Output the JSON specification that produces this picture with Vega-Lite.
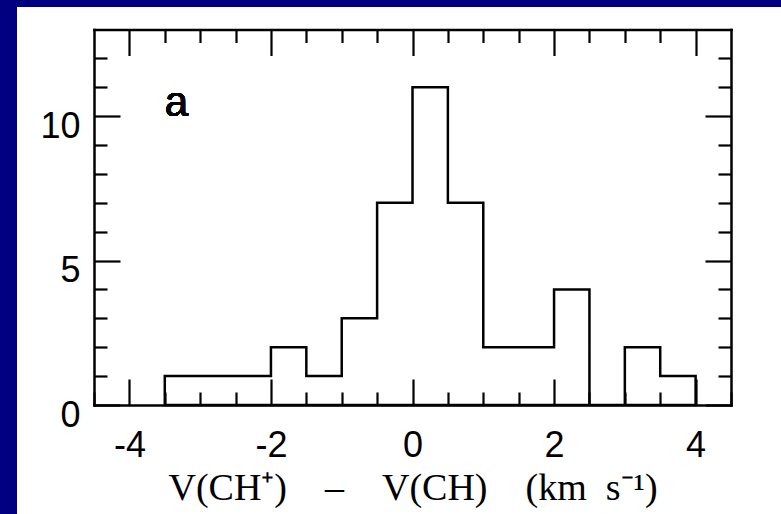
{
  "$schema": "https://vega.github.io/schema/vega-lite/v6.json",
  "width": 764,
  "height": 507,
  "autosize": {"type": "none"},
  "padding": {"left": 17, "top": 7, "right": 0, "bottom": 0},
  "background": "#000080",
  "config": {
    "view": {"fill": "white", "stroke": null},
    "axis": {
      "grid": false,
      "domainColor": "black",
      "domainWidth": 2.5,
      "domainCap": "square",
      "tickColor": "black",
      "tickWidth": 2.2,
      "labelColor": "black",
      "labelFont": "Liberation Sans",
      "labelFontSize": 36,
      "labelFontWeight": "normal",
      "labelOverlap": false,
      "labelBound": false,
      "labelFlush": false,
      "titleColor": "black"
    }
  },
  "data": {
    "values": [
      {"edge": -3.5, "count": 1},
      {"edge": -3.0, "count": 1},
      {"edge": -2.5, "count": 1},
      {"edge": -2.0, "count": 2},
      {"edge": -1.5, "count": 1},
      {"edge": -1.0, "count": 3},
      {"edge": -0.5, "count": 7},
      {"edge": 0.0, "count": 11},
      {"edge": 0.5, "count": 7},
      {"edge": 1.0, "count": 2},
      {"edge": 1.5, "count": 2},
      {"edge": 2.0, "count": 4},
      {"edge": 2.5, "count": 0},
      {"edge": 3.0, "count": 2},
      {"edge": 3.5, "count": 1},
      {"edge": 4.0, "count": 0}
    ]
  },
  "resolve": {"axis": {"x": "independent", "y": "independent"}},
  "layer": [
    {
      "mark": {"type": "area", "interpolate": "step-after", "fillOpacity": 0, "stroke": "black", "strokeWidth": 2.5, "strokeJoin": "miter"},
      "encoding": {
        "x": {
          "field": "edge", "type": "quantitative",
          "scale": {"domain": [-4.5, 4.5], "range": [77, 714], "nice": false, "zero": false},
          "axis": {
            "orient": "bottom", "offset": -109, "values": [-4, -2, 0, 2, 4],
            "ticks": false, "domain": true, "labelPadding": 23,
            "labelExpr": "datum.value < 0 ? '-' + abs(datum.value) : '' + datum.value",
            "title": "V(CH⁺)\u2003–\u2003V(CH)\u2003(km\u2002s⁻¹)",
            "titleFont": "Liberation Serif", "titleFontSize": 38, "titleFontWeight": "normal",
            "titlePadding": 6
          }
        },
        "y": {
          "field": "count", "type": "quantitative",
          "scale": {"domain": [0, 13], "range": [398, 22.5], "nice": false, "zero": false},
          "axis": {
            "orient": "left", "offset": -77, "values": [0, 5, 10],
            "ticks": false, "domain": true, "labelPadding": 14, "labelOffset": 10,
            "title": null
          }
        }
      }
    },
    {
      "mark": {"type": "point", "opacity": 0},
      "encoding": {
        "x": {"field": "edge", "type": "quantitative",
          "axis": {"orient": "bottom", "offset": -109, "values": [-4, -2, 0, 2, 4], "tickSize": -26, "labels": false, "domain": false, "title": null}},
        "y": {"field": "count", "type": "quantitative",
          "axis": {"orient": "left", "offset": -77, "values": [0, 5, 10], "tickSize": -26, "labels": false, "domain": false, "title": null}}
      }
    },
    {
      "mark": {"type": "point", "opacity": 0},
      "encoding": {
        "x": {"field": "edge", "type": "quantitative",
          "axis": {"orient": "bottom", "offset": -109, "values": [-4.5, -3.5, -3, -2.5, -1.5, -1, -0.5, 0.5, 1, 1.5, 2.5, 3, 3.5, 4.5], "tickSize": -13, "labels": false, "domain": false, "title": null}},
        "y": {"field": "count", "type": "quantitative",
          "axis": {"orient": "left", "offset": -77, "values": [1, 2, 3, 4, 6, 7, 8, 9, 11, 12], "tickSize": -13, "labels": false, "domain": false, "title": null}}
      }
    },
    {
      "mark": {"type": "point", "opacity": 0},
      "encoding": {
        "x": {"field": "edge", "type": "quantitative",
          "axis": {"orient": "top", "offset": -22.5, "values": [-4, -2, 0, 2, 4], "tickSize": -26, "labels": false, "domain": true, "title": null}},
        "y": {"field": "count", "type": "quantitative",
          "axis": {"orient": "right", "offset": -50, "values": [0, 5, 10], "tickSize": -26, "labels": false, "domain": true, "title": null}}
      }
    },
    {
      "mark": {"type": "point", "opacity": 0},
      "encoding": {
        "x": {"field": "edge", "type": "quantitative",
          "axis": {"orient": "top", "offset": -22.5, "values": [-3.5, -3, -2.5, -1.5, -1, -0.5, 0.5, 1, 1.5, 2.5, 3, 3.5], "tickSize": -13, "labels": false, "domain": false, "title": null}},
        "y": {"field": "count", "type": "quantitative",
          "axis": {"orient": "right", "offset": -50, "values": [1, 2, 3, 4, 6, 7, 8, 9, 11, 12], "tickSize": -13, "labels": false, "domain": false, "title": null}}
      }
    },
    {
      "mark": {"type": "text", "text": "a", "align": "left", "baseline": "alphabetic", "font": "Liberation Sans", "fontSize": 42, "fill": "black", "stroke": null},
      "encoding": {
        "x": {"datum": -3.5, "type": "quantitative", "axis": null},
        "y": {"datum": 10, "type": "quantitative", "axis": null}
      }
    }
  ]
}
